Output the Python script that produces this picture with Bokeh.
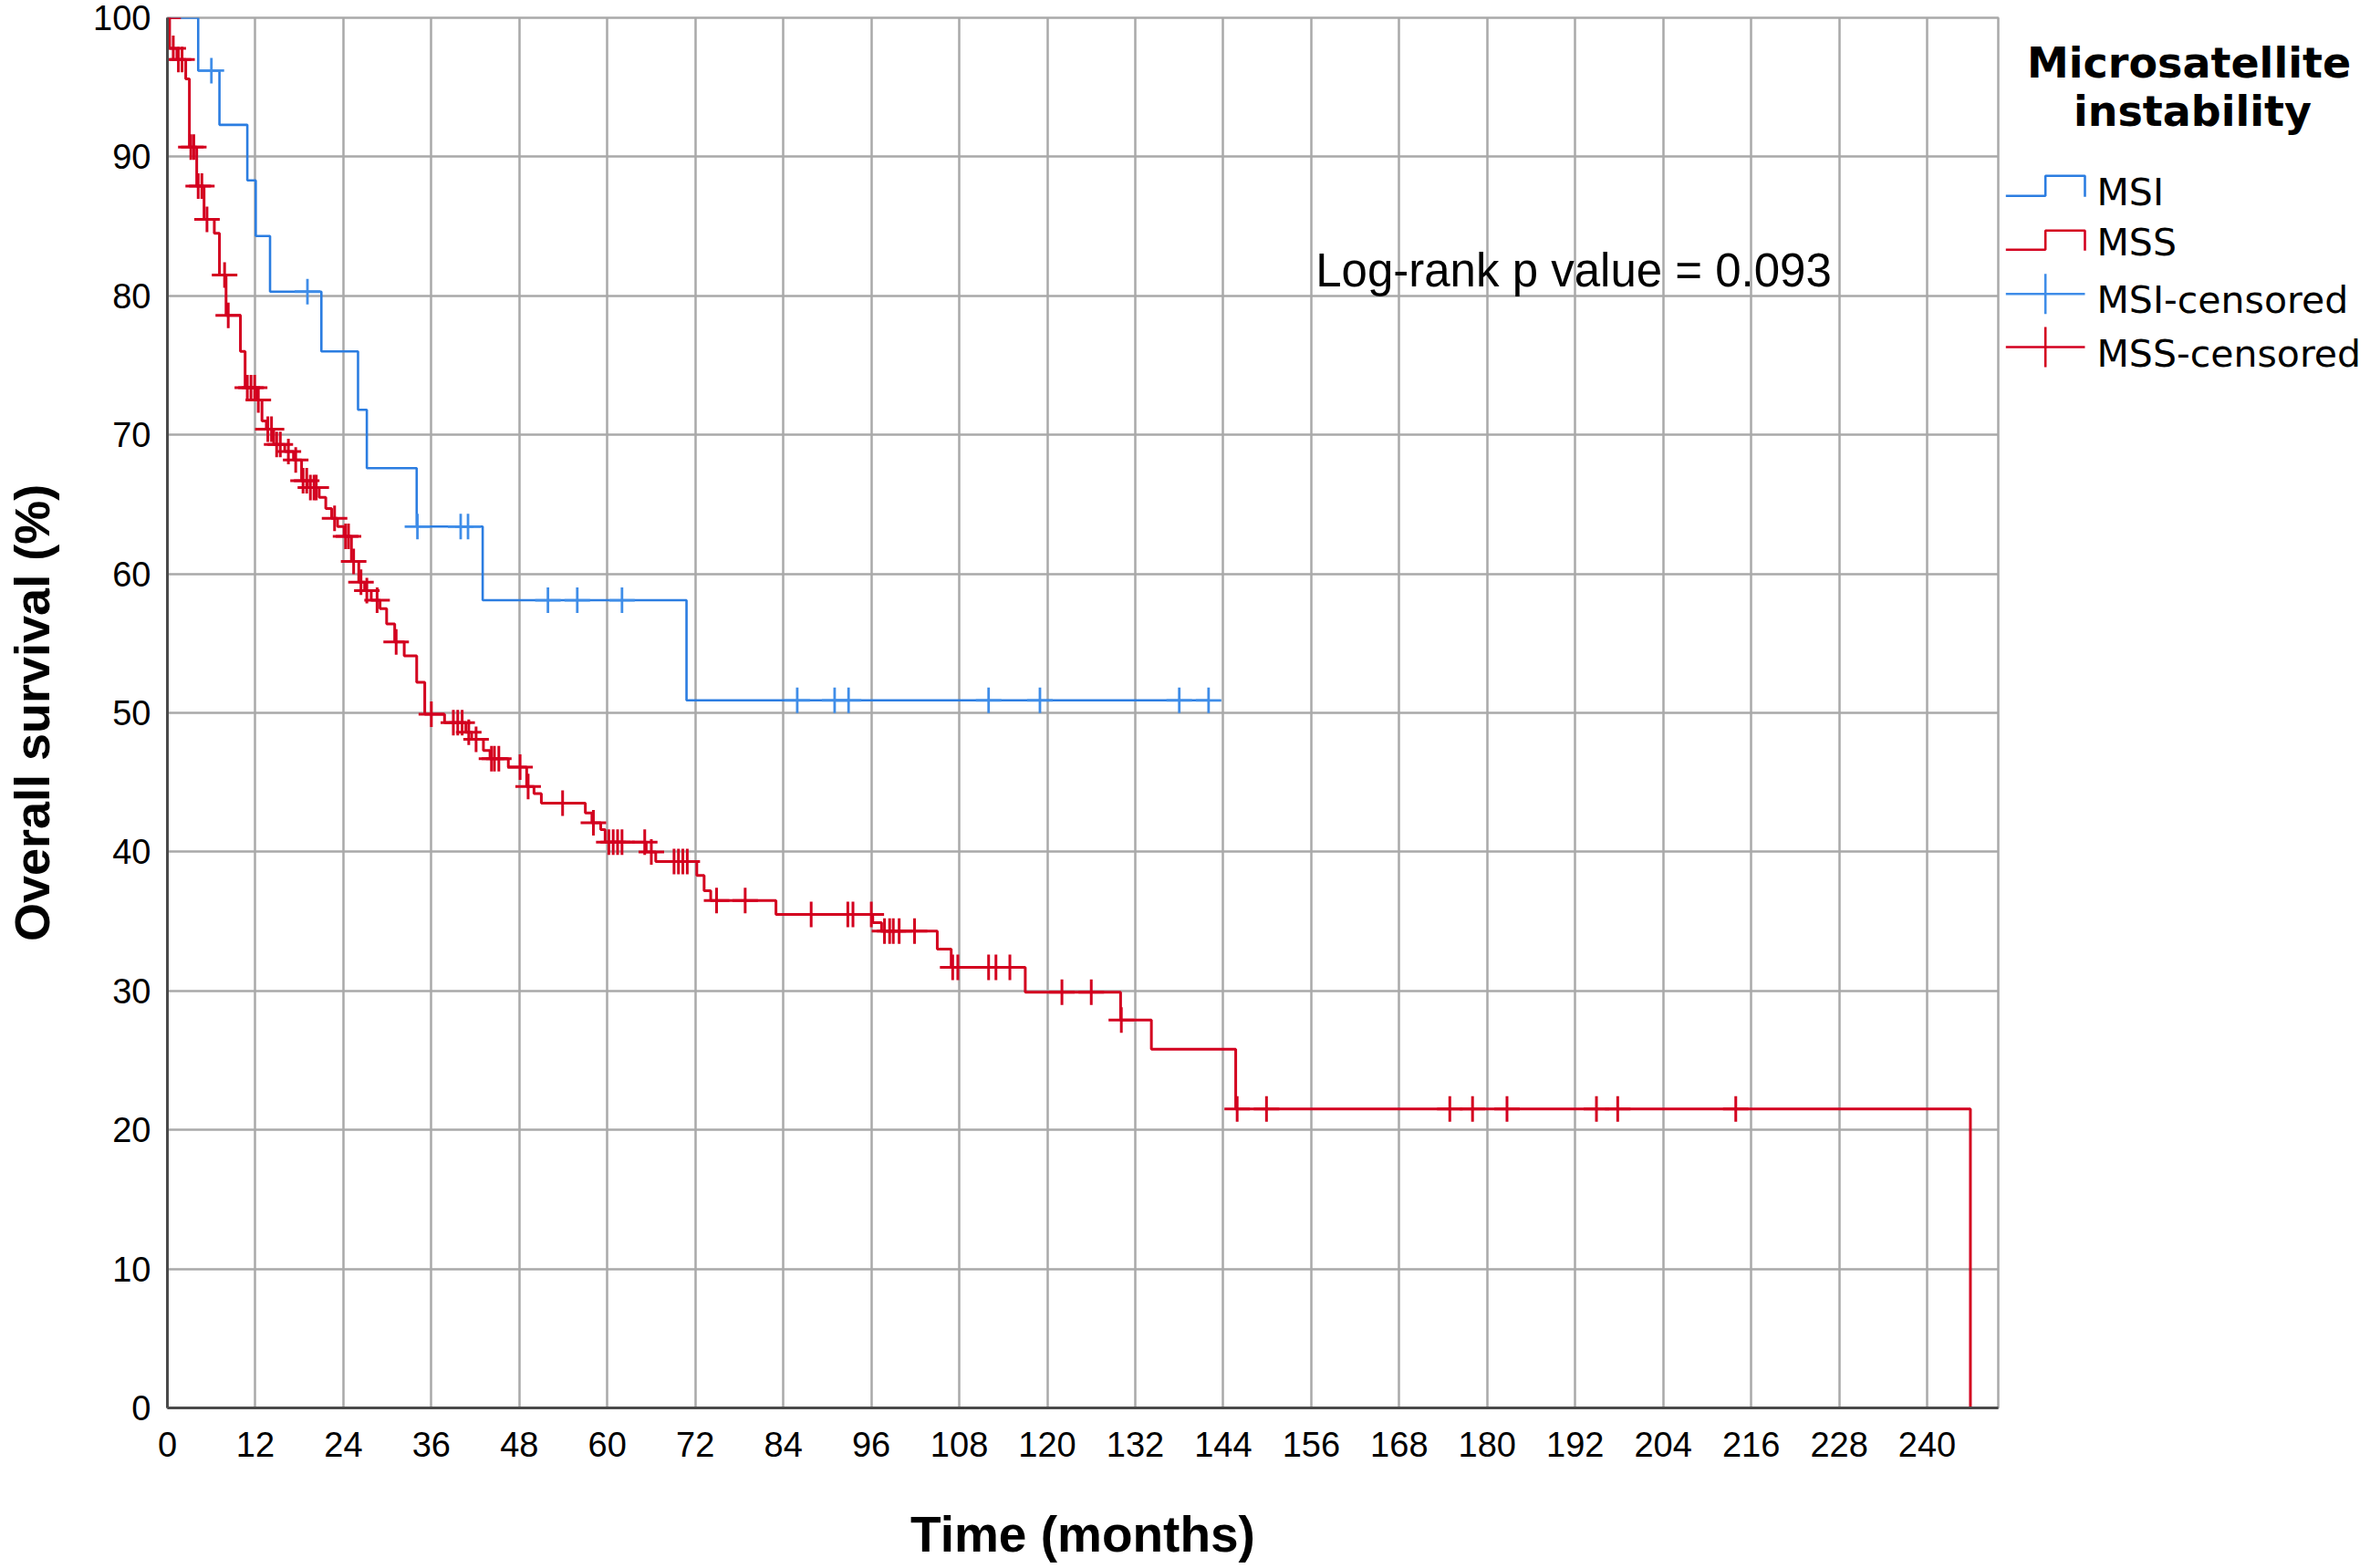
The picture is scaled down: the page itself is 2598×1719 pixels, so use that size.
import numpy as np
from bokeh.plotting import figure
from bokeh.layouts import row
from bokeh.models import Range1d, Label, FixedTicker
from bokeh.core.properties import value
from bokeh.embed import file_html
from bokeh.resources import INLINE

# ---------------- data ----------------
msi_event_months = [0, 4.2, 7.1, 10.9, 12.05, 14.0, 21.0, 26.0, 27.2, 34.0, 43.0, 70.8, 142.0]
msi_survival = [100, 96.2, 92.3, 88.3, 84.3, 80.3, 76.0, 71.8, 67.6, 63.4, 58.1, 50.9, 50.9]
msi_censored_months = [6.0, 19.1, 34.1, 40.0, 41.0, 51.9, 55.9, 62.0, 85.9, 91.0, 92.9,
                       112.0, 119.0, 138.0, 142.0]

mss_event_months = [0, 0.3, 1.3, 2.5, 3.0, 4.0, 5.0, 6.4, 7.1, 8.0, 9.96, 10.6, 12.2, 12.9,
                    13.5, 14.5, 16.0, 17.2, 18.3, 19.1, 20.7, 21.6, 22.4, 23.2, 24.1, 25.1,
                    26.1, 26.9, 27.8, 29.0, 29.9, 31.0, 32.3, 34.0, 35.1, 37.8, 40.7, 41.5,
                    43.1, 44.0, 46.5, 49.0, 50.0, 51.0, 57.0, 57.9, 59.1, 59.7, 65.3, 66.6,
                    72.2, 73.2, 74.1, 83.0, 96.2, 97.4, 105.0, 106.9, 117.0, 130.0, 134.2,
                    145.7, 245.9]
mss_survival = [100, 97.8, 97.0, 95.6, 90.7, 87.9, 85.5, 84.5, 81.5, 78.6, 76.0, 73.4, 72.5, 71.0,
                70.4, 69.3, 68.8, 68.2, 66.7, 66.2, 65.5, 64.7, 64.0, 63.4, 62.7, 60.9,
                59.4, 58.8, 58.1, 57.5, 56.4, 55.1, 54.1, 52.2, 49.9, 49.3, 48.6, 48.1,
                47.3, 46.7, 46.1, 44.7, 44.2, 43.5, 42.8, 42.1, 41.6, 40.7, 40.0, 39.3,
                38.3, 37.2, 36.5, 35.5, 34.9, 34.3, 33.0, 31.7, 29.9, 27.9, 25.8,
                21.5, 0.0]
mss_censored_months = [0.1, 0.8, 1.5, 2.0, 3.2, 3.6, 4.2, 4.7, 5.4, 7.8, 8.3, 10.9, 11.4, 11.9,
                       12.4, 13.7, 14.2, 14.9, 15.4, 16.5, 17.5, 18.5, 19.0, 19.5, 20.0, 20.3,
                       22.8, 24.3, 24.7, 25.4, 26.4, 27.2, 28.6, 31.2, 36.0, 39.0, 39.6, 40.2,
                       41.1, 42.1, 44.2, 44.6, 45.2, 48.1, 49.2, 53.9, 58.1, 60.2, 60.8, 61.4,
                       62.0, 65.1, 66.0, 69.1, 69.7, 70.3, 70.9, 74.9, 78.8, 87.8, 92.8, 93.5,
                       96.0, 97.8, 98.5, 99.0, 99.8, 101.9, 107.1, 107.8, 112.0, 113.0, 114.9,
                       122.0, 126.0, 130.1, 145.9, 149.9, 174.9, 178.0, 182.7, 194.9, 197.8,
                       213.9]

x_ticks = list(range(0, 241, 12))
y_ticks = list(range(0, 101, 10))
x_max = 249.7

series_names = ["MSI", "MSS", "MSI-censored", "MSS-censored"]
legend_title = ["Microsatellite", "instability"]
annotation_text = "Log-rank p value = 0.093"
annotation_x, annotation_y = 156.6, 81.8

BLUE = "#2B7DE1"
BLUE_C = "#3F8DE8"
RED = "#D3001F"
GRID = "#A9A9A9"
AXIS = "#4A4A4A"
FONT = "Liberation Sans"
LFONT = "DejaVu Sans"


def level_at(times, levels, t):
    times = np.asarray(times)
    levels = np.asarray(levels)
    idx = np.searchsorted(times, np.asarray(t), side="right") - 1
    return levels[idx]


msi_censored_surv = level_at(msi_event_months, msi_survival, msi_censored_months)
mss_censored_surv = level_at(mss_event_months, mss_survival, mss_censored_months)

# ---------------- main figure ----------------
W1, H = 2192, 1717
TOP, BOTTOM = 19, 174
p = figure(width=W1, height=H, x_range=Range1d(0, x_max), y_range=Range1d(0, 100),
           toolbar_location=None, output_backend="svg",
           min_border_left=183, min_border_right=2, min_border_top=TOP,
           min_border_bottom=BOTTOM)
p.background_fill_color = "white"
p.border_fill_color = "white"
p.outline_line_color = GRID
p.outline_line_width = 2.5

p.xaxis.ticker = FixedTicker(ticks=x_ticks)
p.yaxis.ticker = FixedTicker(ticks=y_ticks)
for ax in (p.xaxis[0], p.yaxis[0]):
    ax.axis_line_color = AXIS
    ax.axis_line_width = 3
    ax.major_tick_line_color = None
    ax.minor_tick_line_color = None
    ax.major_tick_out = 0
    ax.major_tick_in = 0
    ax.minor_tick_out = 0
    ax.minor_tick_in = 0
    ax.major_label_text_font = FONT
    ax.major_label_text_font_size = "38px"
    ax.major_label_text_color = "black"
    ax.axis_label_text_font = FONT
    ax.axis_label_text_font_size = "55px"
    ax.axis_label_text_font_style = "bold"
    ax.axis_label_text_color = "black"
p.yaxis.axis_label_text_font_size = "54px"
p.xaxis.major_label_standoff = 26
p.yaxis.major_label_standoff = 18
p.xaxis.axis_label = "Time (months)"
p.yaxis.axis_label = "Overall survival (%)"
p.xaxis.axis_label_standoff = 51
p.yaxis.axis_label_standoff = 34

p.xgrid.ticker = FixedTicker(ticks=x_ticks)
p.ygrid.ticker = FixedTicker(ticks=y_ticks)
p.grid.grid_line_color = GRID
p.grid.grid_line_width = 2.5

p.step(msi_event_months, msi_survival, mode="after", line_color=BLUE, line_width=2.6)
p.step(mss_event_months, mss_survival, mode="after", line_color=RED, line_width=3)
p.scatter(msi_censored_months, msi_censored_surv, marker="cross", size=28,
          line_color=BLUE_C, line_width=2.8)
p.scatter(mss_censored_months, mss_censored_surv, marker="cross", size=28,
          line_color=RED, line_width=3)

p.add_layout(Label(x=annotation_x, y=annotation_y, text=annotation_text,
                   text_font=FONT, text_font_size="51px", text_color="black",
                   text_baseline="middle", text_align="left"))

# ---------------- legend panel (data units = page pixels) ----------------
W2 = 404
lg = figure(width=W2, height=H, x_range=Range1d(0, W2), y_range=Range1d(H - BOTTOM, TOP),
            toolbar_location=None, output_backend="svg",
            min_border_left=0, min_border_right=0, min_border_top=TOP,
            min_border_bottom=BOTTOM)
lg.xaxis.visible = False
lg.yaxis.visible = False
lg.grid.visible = False
lg.outline_line_color = None
lg.background_fill_color = "white"
lg.border_fill_color = "white"

lg.text(x=[207, 211], y=[68, 121], text=legend_title, text_font=value(LFONT),
        text_font_size="46px", text_font_style="bold", text_align="center",
        text_baseline="middle", text_color="black")

icon_x0, icon_xm, icon_x1 = 6.3, 49.7, 93.0
# step icons (low, high)
for low, high, col in ((214.3, 192.3, BLUE), (273.3, 252.3, RED)):
    lg.line([icon_x0, icon_xm, icon_xm, icon_x1, icon_x1],
            [low, low, high, high, low + 1],
            line_color=col, line_width=2.6)
# censored icons
for mid, col in ((321.7, BLUE_C), (380.0, RED)):
    lg.line([icon_x0, icon_x1], [mid, mid], line_color=col, line_width=2.6)
    lg.line([icon_xm, icon_xm], [mid - 22, mid + 22], line_color=col, line_width=2.6)

lg.text(x=[106] * 4, y=[210, 265, 328, 387], text=series_names,
        text_font=value(LFONT), text_font_size="41px", text_align="left",
        text_baseline="middle", text_color="black")

layout = row(p, lg)
open("out.html", "w").write(file_html(layout, INLINE))
